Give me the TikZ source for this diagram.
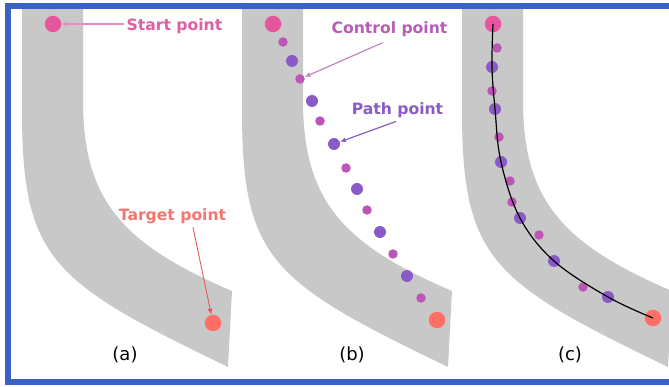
\documentclass[tikz,border=0pt]{standalone}
\usepackage{fontspec}
\setmainfont{DejaVu Sans}
\usetikzlibrary{arrows.meta}
\definecolor{FrameBlue}{HTML}{3A62C4}
\definecolor{RoadGray}{HTML}{C8C8C8}
\definecolor{StartPink}{HTML}{E8559F}
\definecolor{TargetRed}{HTML}{FF6F65}
\definecolor{CtrlMagenta}{HTML}{BB56B6}
\definecolor{PathPurple}{HTML}{8A5AC6}
\definecolor{StartText}{HTML}{E35DA2}
\definecolor{StartLine}{HTML}{E98BBE}
\definecolor{TargetText}{HTML}{F4766E}
\definecolor{TargetLine}{HTML}{E55858}
\definecolor{CtrlText}{HTML}{B85DB5}
\definecolor{CtrlLine}{HTML}{C184C0}

\begin{document}
\begin{tikzpicture}[x=1pt,y=-1pt,
    road/.style={fill=RoadGray},
    startpt/.style={circle,fill=StartPink,minimum size=16.5pt,inner sep=0pt},
    targetpt/.style={circle,fill=TargetRed,minimum size=16.5pt,inner sep=0pt},
    ctrlpt/.style={circle,fill=CtrlMagenta,minimum size=9.5pt,inner sep=0pt},
    pathpt/.style={circle,fill=PathPurple,minimum size=12pt,inner sep=0pt},
    tag/.style={font=\bfseries\fontsize{15.6}{18}\selectfont,anchor=base,inner sep=3pt},
    caption/.style={font=\fontsize{18}{21}\selectfont,anchor=base},
    tagarrow/.style={-{Latex[length=6pt,width=5pt]},line width=1.2pt},
    route/.style={black,line width=1.2pt}
  ]
    \useasboundingbox (0,0) rectangle (669,387);

    % the same road in the three panels
    \foreach \dx in {0,220,440}
      \fill[road,xshift=\dx] (22,3) -- (22,110) .. controls (22,260) and (52,282) .. (228,367)
        -- (232,291) .. controls (122,244) and (83,200) .. (83,100) -- (83,3) -- cycle;

    \draw[FrameBlue,line width=6pt] (672,6) -- (8,6) -- (8,382) -- (672,382);

    % (a)
    \node[startpt] (a-start) at (53,24) {};
    \node[targetpt] (a-target) at (213,323) {};

    % (b)
    \node[startpt] (b-start) at (273,24) {};
    \node[ctrlpt] (b-c1) at (283,42) {};
    \node[pathpt] (b-p1) at (292,61) {};
    \node[ctrlpt] (b-c2) at (300,79) {};
    \node[pathpt] (b-p2) at (312,101) {};
    \node[ctrlpt] (b-c3) at (320,121) {};
    \node[pathpt] (b-p3) at (334,144) {};
    \node[ctrlpt] (b-c4) at (346,168) {};
    \node[pathpt] (b-p4) at (357,189) {};
    \node[ctrlpt] (b-c5) at (367,210) {};
    \node[pathpt] (b-p5) at (380,232) {};
    \node[ctrlpt] (b-c6) at (393,254) {};
    \node[pathpt] (b-p6) at (407,276) {};
    \node[ctrlpt] (b-c7) at (421,298) {};
    \node[targetpt] (b-target) at (437,320) {};

    % (c)
    \node[startpt] (c-start) at (493,24) {};
    \node[ctrlpt] (c-c1) at (497,48) {};
    \node[pathpt] (c-p1) at (492,67) {};
    \node[ctrlpt] (c-c2) at (492,91) {};
    \node[pathpt] (c-p2) at (495,109) {};
    \node[ctrlpt] (c-c3) at (499,137) {};
    \node[pathpt] (c-p3) at (501,162) {};
    \node[ctrlpt] (c-c4) at (510,181) {};
    \node[ctrlpt] (c-c5) at (512,202) {};
    \node[pathpt] (c-p4) at (520,218) {};
    \node[ctrlpt] (c-c6) at (539,235) {};
    \node[pathpt] (c-p5) at (554,261) {};
    \node[ctrlpt] (c-c7) at (583,287) {};
    \node[pathpt] (c-p6) at (608,297) {};
    \node[targetpt] (c-target) at (653,318) {};
    \draw[route] plot[smooth,tension=0.6] coordinates {(c-start.center) (c-p1.center) (c-p2.center)
      (c-p3.center) (c-p4.center) (c-p5.center) (c-p6.center) (c-target.center)};

    % labels
    \node[tag,text=StartText] (start-tag) at (174.5,31) {Start point};
    \node[tag,text=TargetText] (target-tag) at (172.5,220.7) {Target point};
    \node[tag,text=CtrlText] (ctrl-tag) at (389.5,33.3) {Control point};
    \node[tag,text=PathPurple] (path-tag) at (397.5,115) {Path point};
    \node[caption] (a-cap) at (125,360) {(a)};
    \node[caption] (b-cap) at (352,360) {(b)};
    \node[caption] (c-cap) at (570,360) {(c)};

    \draw[tagarrow,StartLine] (start-tag.west |- a-start) -- (a-start);
    \draw[tagarrow,TargetLine,line width=0.9pt] ([xshift=20.5pt]target-tag.south) -- (a-target);
    \draw[tagarrow,CtrlLine] ([xshift=-7pt,yshift=-3pt]ctrl-tag.south) -- (b-c2);
    \draw[tagarrow,PathPurple] ([xshift=-1.5pt]path-tag.south) -- (b-p3);
  \end{tikzpicture}
\end{document}
